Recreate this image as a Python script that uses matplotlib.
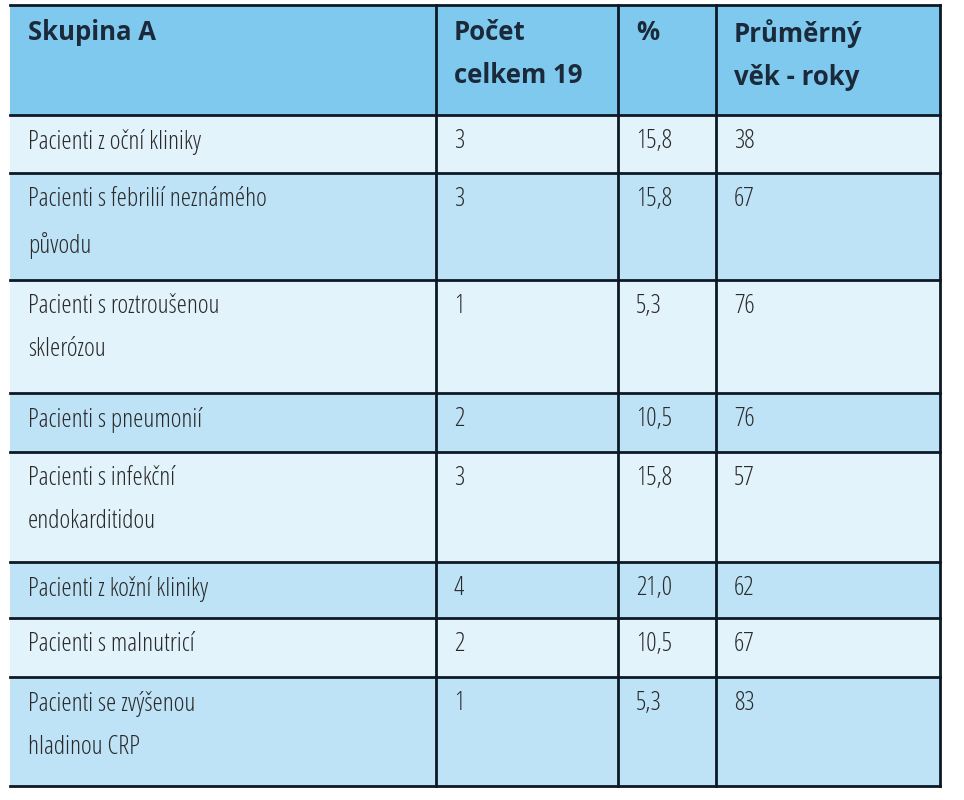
import matplotlib.pyplot as plt
from matplotlib.patches import Rectangle

headers = ["Skupina A", "Počet\ncelkem 19", "%", "Průměrný\nvěk - roky"]
groups = ["Pacienti z oční kliniky", "Pacienti s febrilií neznámého\npůvodu",
          "Pacienti s roztroušenou\nsklerózou", "Pacienti s pneumonií",
          "Pacienti s infekční\nendokarditidou", "Pacienti z kožní kliniky",
          "Pacienti s malnutricí", "Pacienti se zvýšenou\nhladinou CRP"]
counts = ["3", "3", "1", "2", "3", "4", "2", "1"]
percents = ["15,8", "15,8", "5,3", "10,5", "15,8", "21,0", "10,5", "5,3"]
ages = ["38", "67", "76", "76", "57", "62", "67", "83"]

col_x = [10, 436, 618, 716, 940]
row_y = [5, 115, 173, 280, 393, 452, 562, 618, 677, 786]

fig = plt.figure(figsize=(9.64, 8.0), dpi=100)
ax = fig.add_axes([0, 0, 1, 1])
ax.set_xlim(0, 964)
ax.set_ylim(800, 0)
ax.axis('off')

header_col = '#7fc8ee'
row_cols = ['#e3f3fc', '#bfe3f6']
line_col = '#0d1a26'

rows = [headers] + [list(r) for r in zip(groups, counts, percents, ages)]
for i, row in enumerate(rows):
    y0, y1 = row_y[i], row_y[i + 1]
    face = header_col if i == 0 else row_cols[(i - 1) % 2]
    ax.add_patch(Rectangle((col_x[0], y0), col_x[-1] - col_x[0], y1 - y0,
                           facecolor=face, edgecolor='none'))
    for j, txt in enumerate(row):
        ax.text(col_x[j] + 18, y0 + 14, txt, va='top', ha='left',
                fontsize=18.5, color='#1a2a3a' if i == 0 else '#2a2a2a',
                fontweight='bold' if i == 0 else 'light',
                family='Open Sans', fontstretch='semi-condensed',
                linespacing=1.75 if i == 0 else 1.95)

for y in row_y:
    ax.plot([col_x[0], col_x[-1]], [y, y], color=line_col, lw=2)
for x in col_x[1:]:
    ax.plot([x, x], [row_y[0], row_y[-1]], color=line_col, lw=2)

fig.savefig('out.png', dpi=100)
